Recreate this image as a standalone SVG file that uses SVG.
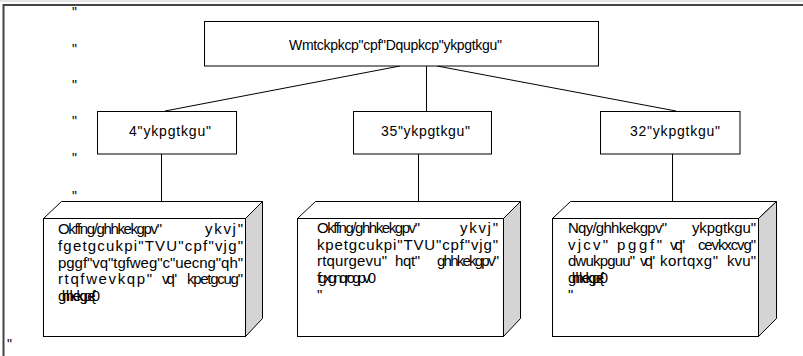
<svg xmlns="http://www.w3.org/2000/svg" width="803" height="356" viewBox="0 0 803 356">
<style>
.t{font-family:"Liberation Sans",Arial,sans-serif;font-size:14px;fill:#000}
.c{font-family:"Liberation Sans",Arial,sans-serif;font-size:15px;fill:#000}
.box{fill:#fff;stroke:#000;stroke-width:1}
.top{fill:#fff;stroke:#000;stroke-width:1;stroke-linejoin:miter}
.side{fill:#d4d4d4;stroke:#000;stroke-width:1}
.conn line{stroke:#000;stroke-width:1}
.frame{stroke:#444;stroke-width:2;fill:none}
</style>
<rect width="803" height="356" fill="#fff"/>
<g id="frame">
<line x1="0" y1="1" x2="803" y2="1" stroke="#ccc" stroke-width="1"/>
<line class="frame" x1="3" y1="5" x2="803" y2="5"/>
<line class="frame" x1="3.5" y1="4" x2="3.5" y2="356"/>
</g>
<g id="marks" class="t">
<text x="72" y="17">"</text>
<text x="72" y="54">"</text>
<text x="72" y="90">"</text>
<text x="72" y="126">"</text>
<text x="72" y="163">"</text>
<text x="72" y="201">"</text>
<text x="7" y="349">"</text>
</g>
<g class="conn" id="connectors">
<line x1="400" y1="66" x2="165" y2="111"/>
<line x1="426.5" y1="66" x2="426.5" y2="111"/>
<line x1="437" y1="66" x2="676" y2="111"/>
<line x1="161.5" y1="154" x2="161.5" y2="201"/>
<line x1="418.5" y1="154" x2="418.5" y2="201"/>
<line x1="672.5" y1="154" x2="672.5" y2="201"/>
</g>
<g id="root">
<rect class="box" x="204.5" y="21.5" width="394" height="44.5"/>
<text class="t" x="289" y="50" textLength="213" lengthAdjust="spacing">Wmtckpkcp"cpf"Dqupkcp"ykpgtkgu"</text>
</g>
<g id="n2">
<rect class="box" x="97.5" y="111.5" width="139" height="42.5"/>
<text class="t" x="129" y="136" textLength="82" lengthAdjust="spacing">4"ykpgtkgu"</text>
</g>
<g id="n13">
<rect class="box" x="353.5" y="111.5" width="138" height="42.5"/>
<text class="t" x="381" y="136" textLength="89" lengthAdjust="spacing">35"ykpgtkgu"</text>
</g>
<g id="n10">
<rect class="box" x="600.5" y="111.5" width="139.5" height="42.5"/>
<text class="t" x="630" y="136" textLength="90" lengthAdjust="spacing">32"ykpgtkgu"</text>
</g>
<g id="cubeA">
<polygon class="top" points="43.5,218.5 61.5,201.5 262.5,201.5 245.5,218.5"/>
<polygon class="side" points="245.5,218.5 262.5,201.5 262.5,318.5 245.5,336.5"/>
<rect class="box" x="43.5" y="218.5" width="202" height="118"/>
<g class="c">
<text x="58" y="234" textLength="104" lengthAdjust="spacing">Okffng/ghhkekgpv"</text>
<text x="205" y="234" textLength="38" lengthAdjust="spacing">ykvj"</text>
<text x="58" y="251" textLength="185" lengthAdjust="spacing">fgetgcukpi"TVU"cpf"vjg"</text>
<text x="58" y="268" textLength="185" lengthAdjust="spacing">pggf"vq"tgfweg"c"uecng"qh"</text>
<text x="58" y="284" textLength="94" lengthAdjust="spacing">rtqfwevkqp"</text>
<text x="162" y="284" textLength="15" lengthAdjust="spacing">vq"</text>
<text x="187" y="284" textLength="56" lengthAdjust="spacing">kpetgcug"</text>
<text x="58" y="301" textLength="42" lengthAdjust="spacing">ghhkekgpe{0</text>
</g>
</g>
<g id="cubeB">
<polygon class="top" points="297.5,218.5 315.5,201.5 520.5,201.5 503.5,218.5"/>
<polygon class="side" points="503.5,218.5 520.5,201.5 520.5,318.5 503.5,336.5"/>
<rect class="box" x="297.5" y="218.5" width="206" height="118"/>
<g class="c">
<text x="317" y="233" textLength="103" lengthAdjust="spacing">Okffng/ghhkekgpv"</text>
<text x="460" y="233" textLength="38" lengthAdjust="spacing">ykvj"</text>
<text x="317" y="249.5" textLength="181" lengthAdjust="spacing">kpetgcukpi"TVU"cpf"vjg"</text>
<text x="317" y="266" textLength="70" lengthAdjust="spacing">rtqurgevu"</text>
<text x="395" y="266" textLength="25" lengthAdjust="spacing">hqt"</text>
<text x="437" y="266" textLength="62" lengthAdjust="spacing">ghhkekgpv"</text>
<text x="317" y="283" textLength="59" lengthAdjust="spacing">fgxgnqrogpv0</text>
<text x="317" y="299.5">"</text>
</g>
</g>
<g id="cubeC">
<polygon class="top" points="552.5,218.5 570.5,201.5 776.5,201.5 758.5,218.5"/>
<polygon class="side" points="758.5,218.5 776.5,201.5 776.5,318.5 758.5,336.5"/>
<rect class="box" x="552.5" y="218.5" width="206" height="118"/>
<g class="c">
<text x="568" y="233" textLength="99" lengthAdjust="spacing">Nqy/ghhkekgpv"</text>
<text x="692" y="233" textLength="64" lengthAdjust="spacing">ykpgtkgu"</text>
<text x="568" y="249.5" textLength="40" lengthAdjust="spacing">vjcv"</text>
<text x="617" y="249.5" textLength="45" lengthAdjust="spacing">pggf"</text>
<text x="670" y="249.5" textLength="15" lengthAdjust="spacing">vq"</text>
<text x="698" y="249.5" textLength="58" lengthAdjust="spacing">cevkxcvg"</text>
<text x="568" y="266" textLength="67" lengthAdjust="spacing">dwukpguu"</text>
<text x="640" y="266" textLength="15" lengthAdjust="spacing">vq"</text>
<text x="660" y="266" textLength="58" lengthAdjust="spacing">kortqxg"</text>
<text x="727" y="266" textLength="29" lengthAdjust="spacing">kvu"</text>
<text x="568" y="283" textLength="40" lengthAdjust="spacing">ghhkekgpe{0</text>
<text x="568" y="299.5">"</text>
</g>
</g>
</svg>
